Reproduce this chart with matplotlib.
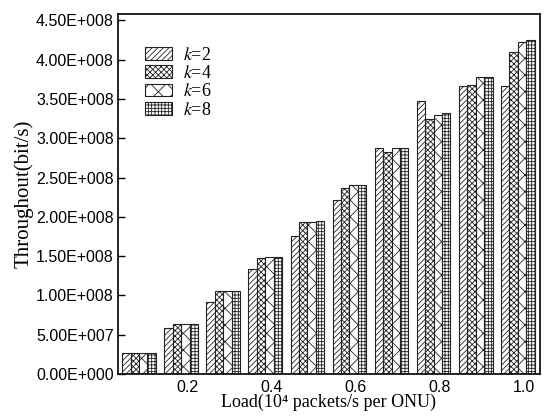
import numpy as np
import matplotlib
matplotlib.use("Agg")
import matplotlib.pyplot as plt
from matplotlib.ticker import FuncFormatter

plt.rcParams['mathtext.fontset'] = 'stix'
plt.rcParams['hatch.linewidth'] = 0.6

loads = ['0.1', '0.2', '0.3', '0.4', '0.5', '0.6', '0.7', '0.8', '0.9', '1.0']
k2 = [2.7e7, 5.9e7, 9.2e7, 1.33e8, 1.75e8, 2.21e8, 2.87e8, 3.48e8, 3.66e8, 3.66e8]
k4 = [2.7e7, 6.3e7, 1.05e8, 1.48e8, 1.93e8, 2.37e8, 2.82e8, 3.24e8, 3.68e8, 4.10e8]
k6 = [2.7e7, 6.3e7, 1.05e8, 1.49e8, 1.94e8, 2.40e8, 2.87e8, 3.30e8, 3.78e8, 4.23e8]
k8 = [2.7e7, 6.3e7, 1.05e8, 1.49e8, 1.95e8, 2.41e8, 2.87e8, 3.32e8, 3.78e8, 4.25e8]
series = [k2, k4, k6, k8]
names = ['$k$=2', '$k$=4', '$k$=6', '$k$=8']
hatches = ['//////', 'xxxxxx', 'xx', '+++++']
tick_labels = ['0.2', '0.4', '0.6', '0.8', '1.0']

fig = plt.figure(figsize=(5.47, 4.16), dpi=100)
ax = fig.add_axes([0.2157, 0.101, 0.771, 0.865])

x = np.arange(len(loads))
w = 0.2
for i, (vals, name, h) in enumerate(zip(series, names, hatches)):
    ax.bar(x + (i - 1.5) * w, vals, w, color='white', edgecolor='#222222',
           hatch=h, linewidth=0.8, label=name)

ax.set_xlim(-0.5, 9.52)
ax.set_ylim(0, 4.58e8)
ax.set_yticks(np.arange(0, 4.51e8, 5e7))

def sci(v, pos):
    if v == 0:
        return '0.00E+000'
    e = int(np.floor(np.log10(abs(v))))
    return '%.2fE+%03d' % (v / 10 ** e, e)

ax.yaxis.set_major_formatter(FuncFormatter(sci))
ax.set_xticks(x[1::2] + 0.15)
ax.set_xticklabels(tick_labels)
ax.tick_params(axis='x', length=0, pad=4, labelsize=11.5)
ax.tick_params(axis='y', direction='in', length=5, width=1, labelsize=11.5, pad=3)
for lab in ax.get_xticklabels() + ax.get_yticklabels():
    lab.set_fontfamily('Liberation Sans')
for s in ax.spines.values():
    s.set_linewidth(1.2)

ax.set_xlabel('Load(10\u2074 packets/s per ONU)', family='Liberation Serif', fontsize=13, labelpad=-0.5)
ax.set_ylabel('Throughout(bit/s)', family='Liberation Serif', fontsize=15, labelpad=2)

ax.legend(loc='upper left', bbox_to_anchor=(0.047, 0.93), frameon=False,
          prop={'family': 'Liberation Serif', 'size': 13},
          handlelength=1.5, handleheight=0.7, labelspacing=0.08,
          handletextpad=0.6, borderaxespad=0)

fig.savefig('out.png', dpi=100)
